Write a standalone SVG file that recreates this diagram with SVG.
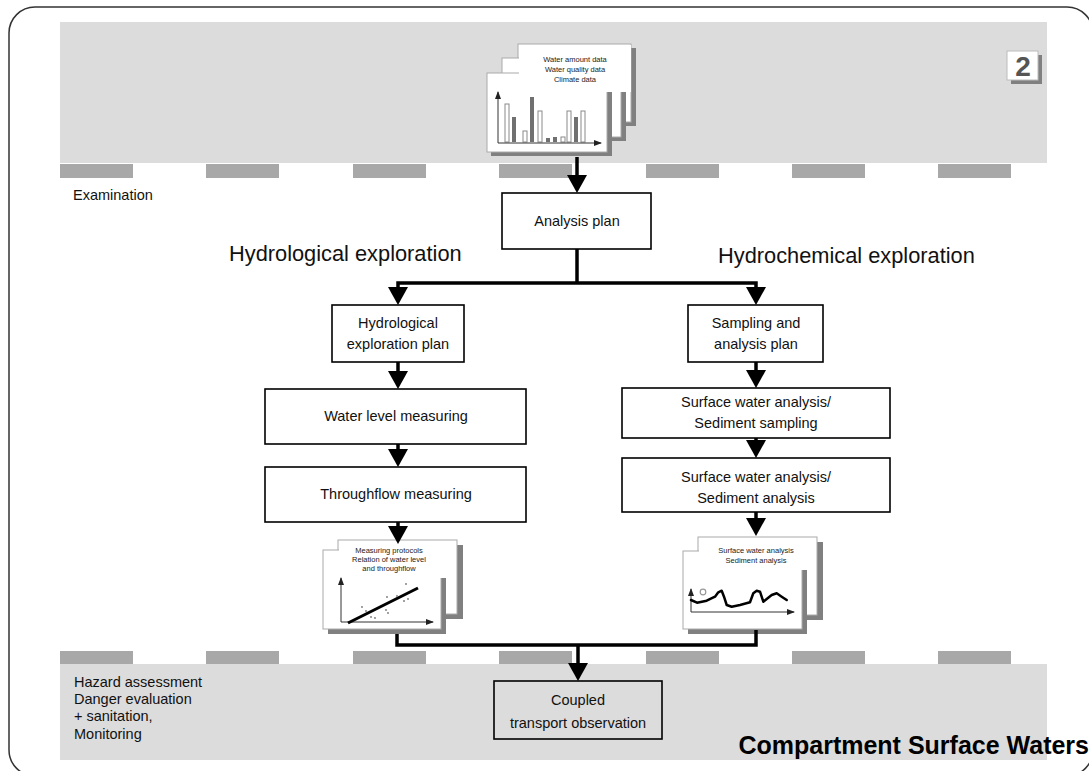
<svg xmlns="http://www.w3.org/2000/svg" width="1089" height="771" viewBox="0 0 1089 771">
  <style>
    .band { fill: #dcdcdc; }
    .dash { fill: #a8a8a8; }
    .box { fill: #ffffff; stroke: #000; stroke-width: 1.6; }
    .boxg { fill: none; stroke: #000; stroke-width: 1.6; }
    .txt { font-family: "Liberation Sans", Arial, sans-serif; font-size: 14.5px; fill: #111; }
    .mid { text-anchor: middle; }
    .head { font-size: 21.8px; }
    .tiny { font-family: "Liberation Sans", Arial, sans-serif; font-size: 7.5px; fill: #222; text-anchor: middle; }
    .page { fill: #fff; stroke: #aaa; stroke-width: 1; }
    .shadow { fill: #808080; }
    .conn { fill: none; stroke: #000; stroke-width: 3.5; stroke-linejoin: miter; }
    .axis { fill: none; stroke: #333; stroke-width: 1; }
    .barO { fill: #fff; stroke: #8a8a8a; stroke-width: 1; }
    .barF { fill: #707070; }
  </style>
  <defs>
    <marker id="ah" markerUnits="userSpaceOnUse" markerWidth="18" markerHeight="20" refX="8" refY="10" orient="auto">
      <path d="M0,0 L18,10 L0,20 Z" fill="#000"/>
    </marker>
    <marker id="ax" markerUnits="userSpaceOnUse" markerWidth="8" markerHeight="6" refX="7" refY="3" orient="auto">
      <path d="M0,0 L8,3 L0,6 Z" fill="#222"/>
    </marker>
  </defs>

  <!-- outer frame -->
  <rect x="9" y="7" width="1084" height="769" rx="26" fill="#fff" stroke="#333" stroke-width="1.5"/>

  <!-- phase bands -->
  <g id="bands">
    <rect class="band" x="60" y="22" width="987" height="141"/>
    <rect class="dash" x="60" y="164" width="73" height="14"/>
    <rect class="dash" x="206" y="164" width="73" height="14"/>
    <rect class="dash" x="353" y="164" width="73" height="14"/>
    <rect class="dash" x="499" y="164" width="73" height="14"/>
    <rect class="dash" x="646" y="164" width="73" height="14"/>
    <rect class="dash" x="792" y="164" width="73" height="14"/>
    <rect class="dash" x="938" y="164" width="73" height="14"/>
    <rect class="dash" x="60" y="651" width="73" height="13"/>
    <rect class="dash" x="206" y="651" width="73" height="13"/>
    <rect class="dash" x="353" y="651" width="73" height="13"/>
    <rect class="dash" x="499" y="651" width="73" height="13"/>
    <rect class="dash" x="646" y="651" width="73" height="13"/>
    <rect class="dash" x="792" y="651" width="73" height="13"/>
    <rect class="dash" x="938" y="651" width="73" height="13"/>
    <rect class="band" x="60" y="664" width="987" height="96"/>
  </g>

  <!-- sheet number badge -->
  <g id="badge">
    <rect class="shadow" x="1011" y="55" width="31" height="29"/>
    <rect x="1007" y="51" width="31" height="29" fill="#fff" stroke="#bbb" stroke-width="1"/>
    <text x="1023" y="76" text-anchor="middle" font-family="Liberation Sans, Arial, sans-serif" font-weight="bold" font-size="28" fill="#555">2</text>
  </g>

  <!-- section labels -->
  <g id="labels">
    <text class="txt" x="73" y="200">Examination</text>
    <text class="txt head" x="229" y="261">Hydrological exploration</text>
    <text class="txt head" x="718" y="263">Hydrochemical exploration</text>
    <text class="txt" x="74" y="687">Hazard assessment</text>
    <text class="txt" x="74" y="704">Danger evaluation</text>
    <text class="txt" x="74" y="721">+ sanitation,</text>
    <text class="txt" x="74" y="739">Monitoring</text>
    <text x="1089" y="754" text-anchor="end" font-family="Liberation Sans, Arial, sans-serif" font-weight="bold" font-size="25" fill="#000">Compartment Surface Waters</text>
  </g>

  <!-- input data documents -->
  <g id="doc-input">
    <rect class="shadow" x="522" y="48" width="114" height="78"/>
    <rect class="page" x="518" y="44" width="113" height="78"/>
    <rect class="shadow" x="506" y="62" width="120" height="79"/>
    <rect class="page" x="502" y="58" width="119" height="79"/>
    <rect class="shadow" x="491" y="77" width="121" height="79"/>
    <rect class="page" x="487" y="73" width="120" height="79"/>
    <rect x="519" y="45" width="112" height="47" fill="#fff"/>
    <text class="tiny" x="575" y="62">Water amount data</text>
    <text class="tiny" x="575" y="72">Water quality data</text>
    <text class="tiny" x="575" y="82">Climate data</text>
    <!-- bar chart -->
    <rect class="barO" x="505" y="104" width="4" height="38"/>
    <rect class="barF" x="512" y="117" width="4" height="25"/>
    <rect class="barO" x="523" y="131" width="4" height="11"/>
    <rect class="barF" x="530" y="97" width="4" height="45"/>
    <rect class="barO" x="538" y="111" width="4" height="31"/>
    <rect class="barF" x="546" y="138" width="4" height="4"/>
    <rect class="barF" x="553" y="137" width="4" height="5"/>
    <rect class="barO" x="561" y="137" width="4" height="5"/>
    <rect class="barO" x="567" y="111" width="4" height="31"/>
    <rect class="barF" x="574" y="117" width="4" height="25"/>
    <rect class="barO" x="581" y="111" width="4" height="31"/>
    <line class="axis" x1="498" y1="143" x2="498" y2="92" marker-end="url(#ax)"/>
    <line class="axis" x1="498" y1="143" x2="601" y2="143" marker-end="url(#ax)"/>
  </g>

  <!-- process boxes -->
  <g id="analysis-plan">
    <rect class="box" x="502" y="193" width="149" height="56"/>
    <text class="txt mid" x="577" y="226">Analysis plan</text>
  </g>
  <g id="hydro-plan">
    <rect class="box" x="332" y="305" width="132" height="57"/>
    <text class="txt mid" x="398" y="328">Hydrological</text>
    <text class="txt mid" x="398" y="349">exploration plan</text>
  </g>
  <g id="sampling-plan">
    <rect class="box" x="688" y="305" width="135" height="57"/>
    <text class="txt mid" x="756" y="328">Sampling and</text>
    <text class="txt mid" x="756" y="349">analysis plan</text>
  </g>
  <g id="water-level">
    <rect class="box" x="265" y="389" width="261" height="55"/>
    <text class="txt mid" x="396" y="421">Water level measuring</text>
  </g>
  <g id="throughflow">
    <rect class="box" x="265" y="467" width="261" height="55"/>
    <text class="txt mid" x="396" y="499">Throughflow measuring</text>
  </g>
  <g id="surface-sampling">
    <rect class="box" x="622" y="388" width="268" height="50"/>
    <text class="txt mid" x="756" y="407">Surface water analysis/</text>
    <text class="txt mid" x="756" y="428">Sediment sampling</text>
  </g>
  <g id="surface-analysis">
    <rect class="box" x="622" y="458" width="268" height="54"/>
    <text class="txt mid" x="756" y="482">Surface water analysis/</text>
    <text class="txt mid" x="756" y="503">Sediment analysis</text>
  </g>

  <!-- hydrological result documents -->
  <g id="doc-hydro">
    <rect class="shadow" x="343" y="545" width="120" height="74"/>
    <rect class="page" x="338" y="540" width="119" height="74"/>
    <rect class="shadow" x="328" y="555" width="118" height="79"/>
    <rect class="page" x="323" y="550" width="118" height="79"/>
    <rect x="339" y="541" width="112" height="37" fill="#fff"/>
    <text class="tiny" x="389" y="553">Measuring protocols</text>
    <text class="tiny" x="389" y="562">Relation of water level</text>
    <text class="tiny" x="389" y="571">and throughflow</text>
    <line class="axis" x1="341" y1="622" x2="341" y2="578" marker-end="url(#ax)"/>
    <line class="axis" x1="341" y1="622" x2="433" y2="622" marker-end="url(#ax)"/>
    <line x1="348" y1="623" x2="418" y2="588" stroke="#000" stroke-width="3"/>
    <g fill="#777">
      <circle cx="362" cy="607" r="0.9"/>
      <circle cx="366" cy="611" r="0.9"/>
      <circle cx="371" cy="617" r="0.9"/>
      <circle cx="375" cy="618" r="0.9"/>
      <circle cx="386" cy="610" r="0.9"/>
      <circle cx="388" cy="613" r="0.9"/>
      <circle cx="387" cy="597" r="0.9"/>
      <circle cx="397" cy="596" r="0.9"/>
      <circle cx="404" cy="601" r="0.9"/>
      <circle cx="408" cy="599" r="0.9"/>
      <circle cx="406" cy="584" r="0.9"/>
    </g>
  </g>

  <!-- hydrochemical result documents -->
  <g id="doc-chem">
    <rect class="shadow" x="703" y="542" width="120" height="78"/>
    <rect class="page" x="698" y="537" width="119" height="78"/>
    <rect class="shadow" x="688" y="556" width="119" height="78"/>
    <rect class="page" x="683" y="551" width="119" height="78"/>
    <rect x="699" y="538" width="113" height="32" fill="#fff"/>
    <text class="tiny" x="756" y="553">Surface water analysis</text>
    <text class="tiny" x="756" y="563">Sediment analysis</text>
    <line class="axis" x1="691" y1="612" x2="691" y2="589" marker-end="url(#ax)"/>
    <line class="axis" x1="691" y1="612" x2="794" y2="612" marker-end="url(#ax)"/>
    <circle cx="703" cy="592" r="2.8" fill="none" stroke="#999" stroke-width="1.2"/>
    <path d="M691,600 L697,602.7 L706.7,600.7 L715,596.7 L718.3,592.3 L721.7,590.7 L724,596.7 L726.7,605 L731.7,606.7 L740,605 L750,602.3 L753.3,593.3 L756.7,590.7 L760,591.7 L763.3,601.7 L766.7,599 L771.7,595 L776.7,593.3 L781.7,596.7 L786.7,600" fill="none" stroke="#000" stroke-width="2.5" stroke-linejoin="round" stroke-linecap="round"/>
  </g>

  <g id="coupled">
    <rect class="boxg" x="494" y="681" width="168" height="58"/>
    <text class="txt mid" x="578" y="705">Coupled</text>
    <text class="txt mid" x="578" y="728">transport observation</text>
  </g>

  <!-- connectors -->
  <g id="connectors">
    <path class="conn" d="M577,157 V183" marker-end="url(#ah)"/>
    <path class="conn" d="M577,249 V283"/>
    <path class="conn" d="M577,283 H398 V295" marker-end="url(#ah)"/>
    <path class="conn" d="M577,283 H756 V295" marker-end="url(#ah)"/>
    <path class="conn" d="M398,362 V379" marker-end="url(#ah)"/>
    <path class="conn" d="M398,444 V457" marker-end="url(#ah)"/>
    <path class="conn" d="M398,522 V534" marker-end="url(#ah)"/>
    <path class="conn" d="M756,362 V378" marker-end="url(#ah)"/>
    <path class="conn" d="M756,438 V448" marker-end="url(#ah)"/>
    <path class="conn" d="M756,512 V526" marker-end="url(#ah)"/>
    <path class="conn" d="M397,634 V645 H756 V630"/>
    <path class="conn" d="M578,645 V671" marker-end="url(#ah)"/>
  </g>
</svg>
